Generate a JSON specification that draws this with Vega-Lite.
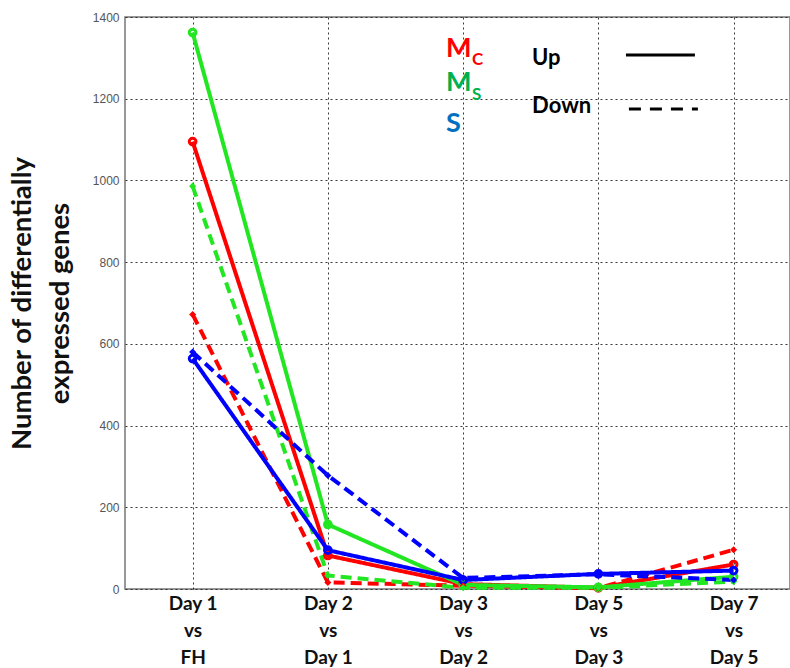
{
  "$schema": "https://vega.github.io/schema/vega-lite/v6.json",
  "width": 665,
  "height": 572,
  "autosize": {"type": "none"},
  "padding": {"left": 125, "top": 17, "right": 0, "bottom": 79},
  "background": "white",
  "config": {
    "view": {"stroke": "#777", "strokeWidth": 1.5},
    "axis": {"domain": false, "ticks": false, "grid": true, "gridColor": "#222", "gridDash": [2, 3], "gridWidth": 1, "gridOpacity": 0.9}
  },
  "data": {
    "values": [
      {"pos": 1, "comparison": "Day 1 vs FH", "series": "Mc", "dir": "Up", "value": 1095},
      {"pos": 2, "comparison": "Day 2 vs Day 1", "series": "Mc", "dir": "Up", "value": 82},
      {"pos": 3, "comparison": "Day 3 vs Day 2", "series": "Mc", "dir": "Up", "value": 12},
      {"pos": 4, "comparison": "Day 5 vs Day 3", "series": "Mc", "dir": "Up", "value": 3},
      {"pos": 5, "comparison": "Day 7 vs Day 5", "series": "Mc", "dir": "Up", "value": 60},
      {"pos": 1, "comparison": "Day 1 vs FH", "series": "Mc", "dir": "Down", "value": 672},
      {"pos": 2, "comparison": "Day 2 vs Day 1", "series": "Mc", "dir": "Down", "value": 16},
      {"pos": 3, "comparison": "Day 3 vs Day 2", "series": "Mc", "dir": "Down", "value": 8},
      {"pos": 4, "comparison": "Day 5 vs Day 3", "series": "Mc", "dir": "Down", "value": 2},
      {"pos": 5, "comparison": "Day 7 vs Day 5", "series": "Mc", "dir": "Down", "value": 96},
      {"pos": 1, "comparison": "Day 1 vs FH", "series": "Ms", "dir": "Up", "value": 1362},
      {"pos": 2, "comparison": "Day 2 vs Day 1", "series": "Ms", "dir": "Up", "value": 158},
      {"pos": 3, "comparison": "Day 3 vs Day 2", "series": "Ms", "dir": "Up", "value": 10},
      {"pos": 4, "comparison": "Day 5 vs Day 3", "series": "Ms", "dir": "Up", "value": 4},
      {"pos": 5, "comparison": "Day 7 vs Day 5", "series": "Ms", "dir": "Up", "value": 30},
      {"pos": 1, "comparison": "Day 1 vs FH", "series": "Ms", "dir": "Down", "value": 986},
      {"pos": 2, "comparison": "Day 2 vs Day 1", "series": "Ms", "dir": "Down", "value": 33},
      {"pos": 3, "comparison": "Day 3 vs Day 2", "series": "Ms", "dir": "Down", "value": 3},
      {"pos": 4, "comparison": "Day 5 vs Day 3", "series": "Ms", "dir": "Down", "value": 3},
      {"pos": 5, "comparison": "Day 7 vs Day 5", "series": "Ms", "dir": "Down", "value": 18},
      {"pos": 1, "comparison": "Day 1 vs FH", "series": "S", "dir": "Up", "value": 564},
      {"pos": 2, "comparison": "Day 2 vs Day 1", "series": "S", "dir": "Up", "value": 95},
      {"pos": 3, "comparison": "Day 3 vs Day 2", "series": "S", "dir": "Up", "value": 22},
      {"pos": 4, "comparison": "Day 5 vs Day 3", "series": "S", "dir": "Up", "value": 37},
      {"pos": 5, "comparison": "Day 7 vs Day 5", "series": "S", "dir": "Up", "value": 45},
      {"pos": 1, "comparison": "Day 1 vs FH", "series": "S", "dir": "Down", "value": 580},
      {"pos": 2, "comparison": "Day 2 vs Day 1", "series": "S", "dir": "Down", "value": 278},
      {"pos": 3, "comparison": "Day 3 vs Day 2", "series": "S", "dir": "Down", "value": 27},
      {"pos": 4, "comparison": "Day 5 vs Day 3", "series": "S", "dir": "Down", "value": 36},
      {"pos": 5, "comparison": "Day 7 vs Day 5", "series": "S", "dir": "Down", "value": 22}
    ]
  },
  "layer": [
    {
      "mark": {"type": "line", "strokeWidth": 4},
      "encoding": {
        "x": {
          "field": "pos", "type": "quantitative",
          "scale": {"domain": [0.5, 5.417], "nice": false, "zero": false},
          "axis": {
            "values": [1, 2, 3, 4, 5],
            "title": null,
            "labelExpr": "datum.value == 1 ? ['Day 1','vs','FH'] : datum.value == 2 ? ['Day 2','vs','Day 1'] : datum.value == 3 ? ['Day 3','vs','Day 2'] : datum.value == 4 ? ['Day 5','vs','Day 3'] : ['Day 7','vs','Day 5']",
            "labelFont": "Lato", "labelFontWeight": "bold", "labelFontSize": 19, "labelColor": "#111",
            "labelLineHeight": 27, "labelPadding": 5
          }
        },
        "y": {
          "field": "value", "type": "quantitative",
          "scale": {"domain": [0, 1400], "nice": false},
          "axis": {
            "values": [0, 200, 400, 600, 800, 1000, 1200, 1400],
            "format": "d",
            "title": ["Number of differentially", "expressed genes"],
            "titleFont": "Lato", "titleFontWeight": "bold", "titleFontSize": 27.5, "titleColor": "#111",
            "titleLineHeight": 38, "titlePadding": 18,
            "labelFont": "Liberation Sans", "labelFontSize": 12, "labelColor": "#555", "labelPadding": 6
          }
        },
        "color": {
          "field": "series", "type": "nominal",
          "scale": {"domain": ["Mc", "Ms", "S"], "range": ["#ff0000", "#22e622", "#0000ff"]},
          "legend": null
        },
        "strokeDash": {
          "field": "dir", "type": "nominal",
          "scale": {"domain": ["Up", "Down"], "range": [[1, 0], [11, 6]]},
          "legend": null
        },
        "detail": {"field": "dir"}
      }
    },
    {
      "mark": {"type": "point", "filled": false, "strokeWidth": 3, "size": 45, "opacity": 1},
      "transform": [{"filter": "datum.dir == 'Up'"}],
      "encoding": {
        "x": {"field": "pos", "type": "quantitative"},
        "y": {"field": "value", "type": "quantitative"},
        "color": {"field": "series", "type": "nominal", "legend": null}
      }
    },
    {
      "mark": {"type": "point", "shape": "diamond", "filled": true, "size": 50, "opacity": 1},
      "transform": [{"filter": "datum.dir == 'Down'"}],
      "encoding": {
        "x": {"field": "pos", "type": "quantitative"},
        "y": {"field": "value", "type": "quantitative"},
        "color": {"field": "series", "type": "nominal", "legend": null}
      }
    },
    {
      "data": {"values": [{"t": "M"}]},
      "mark": {"type": "text", "align": "left", "baseline": "middle", "font": "Lato", "fontWeight": "bold", "fontSize": 27, "fill": "#ff0000"},
      "encoding": {"x": {"datum": 2.873, "type": "quantitative"}, "y": {"datum": 1321, "type": "quantitative"}, "text": {"field": "t"}}
    },
    {
      "data": {"values": [{"t": "C"}]},
      "mark": {"type": "text", "align": "left", "baseline": "middle", "font": "Lato", "fontWeight": "bold", "fontSize": 17, "fill": "#ff0000"},
      "encoding": {"x": {"datum": 3.066, "type": "quantitative"}, "y": {"datum": 1295, "type": "quantitative"}, "text": {"field": "t"}}
    },
    {
      "data": {"values": [{"t": "M"}]},
      "mark": {"type": "text", "align": "left", "baseline": "middle", "font": "Lato", "fontWeight": "bold", "fontSize": 27, "fill": "#00b050"},
      "encoding": {"x": {"datum": 2.873, "type": "quantitative"}, "y": {"datum": 1238, "type": "quantitative"}, "text": {"field": "t"}}
    },
    {
      "data": {"values": [{"t": "S"}]},
      "mark": {"type": "text", "align": "left", "baseline": "middle", "font": "Lato", "fontWeight": "bold", "fontSize": 17, "fill": "#00b050"},
      "encoding": {"x": {"datum": 3.066, "type": "quantitative"}, "y": {"datum": 1208, "type": "quantitative"}, "text": {"field": "t"}}
    },
    {
      "data": {"values": [{"t": "S"}]},
      "mark": {"type": "text", "align": "left", "baseline": "middle", "font": "Lato", "fontWeight": "bold", "fontSize": 27, "fill": "#0070c0"},
      "encoding": {"x": {"datum": 2.873, "type": "quantitative"}, "y": {"datum": 1138, "type": "quantitative"}, "text": {"field": "t"}}
    },
    {
      "data": {"values": [{"t": "Up"}]},
      "mark": {"type": "text", "align": "left", "baseline": "middle", "font": "Lato", "fontWeight": "bold", "fontSize": 22, "fill": "#000000"},
      "encoding": {"x": {"datum": 3.51, "type": "quantitative"}, "y": {"datum": 1300, "type": "quantitative"}, "text": {"field": "t"}}
    },
    {
      "data": {"values": [{"t": "Down"}]},
      "mark": {"type": "text", "align": "left", "baseline": "middle", "font": "Lato", "fontWeight": "bold", "fontSize": 22, "fill": "#000000"},
      "encoding": {"x": {"datum": 3.51, "type": "quantitative"}, "y": {"datum": 1183, "type": "quantitative"}, "text": {"field": "t"}}
    },
    {
      "data": {"values": [{"t": "Up"}]},
      "mark": {"type": "rule", "strokeWidth": 3, "stroke": "#000000"},
      "encoding": {"x": {"datum": 4.204, "type": "quantitative"}, "x2": {"datum": 4.714}, "y": {"datum": 1307, "type": "quantitative"}}
    },
    {
      "data": {"values": [{"t": "Down"}]},
      "mark": {"type": "rule", "strokeWidth": 3, "strokeDash": [12, 9], "stroke": "#000000"},
      "encoding": {"x": {"datum": 4.226, "type": "quantitative"}, "x2": {"datum": 4.736}, "y": {"datum": 1175, "type": "quantitative"}}
    }
  ]
}
